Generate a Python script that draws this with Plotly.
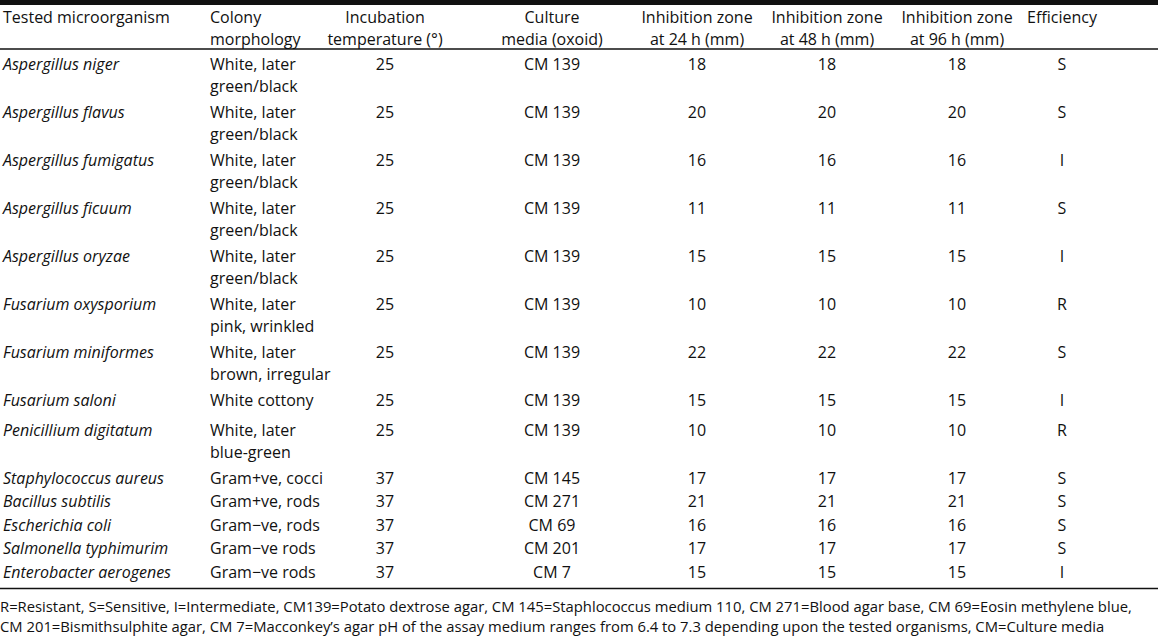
import plotly.graph_objects as go

# table data
headers = ["Tested microorganism", "Colony<br>morphology", "Incubation<br>temperature (°)",
           "Culture<br>media (oxoid)", "Inhibition zone<br>at 24 h (mm)",
           "Inhibition zone<br>at 48 h (mm)", "Inhibition zone<br>at 96 h (mm)", "Efficiency"]

organisms = ["Aspergillus niger", "Aspergillus flavus", "Aspergillus fumigatus", "Aspergillus ficuum",
             "Aspergillus oryzae", "Fusarium oxysporium", "Fusarium miniformes", "Fusarium saloni",
             "Penicillium digitatum", "Staphylococcus aureus", "Bacillus subtilis", "Escherichia coli",
             "Salmonella typhimurim", "Enterobacter aerogenes"]

morphology = ["White, later<br>green/black", "White, later<br>green/black", "White, later<br>green/black",
              "White, later<br>green/black", "White, later<br>green/black", "White, later<br>pink, wrinkled",
              "White, later<br>brown, irregular", "White cottony", "White, later<br>blue-green",
              "Gram+ve, cocci", "Gram+ve, rods", "Gram\u2212ve, rods", "Gram\u2212ve rods", "Gram\u2212ve rods"]

temperature = [25, 25, 25, 25, 25, 25, 25, 25, 25, 37, 37, 37, 37, 37]

media = ["CM 139", "CM 139", "CM 139", "CM 139", "CM 139", "CM 139", "CM 139", "CM 139", "CM 139",
         "CM 145", "CM 271", "CM 69", "CM 201", "CM 7"]

zone_24 = [18, 20, 16, 11, 15, 10, 22, 15, 10, 17, 21, 16, 17, 15]
zone_48 = [18, 20, 16, 11, 15, 10, 22, 15, 10, 17, 21, 16, 17, 15]
zone_96 = [18, 20, 16, 11, 15, 10, 22, 15, 10, 17, 21, 16, 17, 15]

efficiency = ["S", "S", "I", "S", "I", "R", "S", "I", "R", "S", "S", "S", "S", "I"]

footnote = ["R=Resistant, S=Sensitive, I=Intermediate, CM139=Potato dextrose agar, CM 145=Staphlococcus medium 110, "
            "CM 271=Blood agar base, CM 69=Eosin methylene blue,",
            "CM 201=Bismithsulphite agar, CM 7=Macconkey\u2019s agar pH of the assay medium ranges from 6.4 to 7.3 "
            "depending upon the tested organisms, CM=Culture media"]

# layout (pixels)
W, H = 1158, 641
FONT = "Open Sans"
SIZE = 16
COLOR = "#111111"
LINE_GAP = 22        # spacing between lines inside one cell
ROW_H = 23.5         # single line row
ROW_EXTRA = 24.5     # added per extra line
EXTRA_GAP = {"Fusarium saloni": 6}   # the source table leaves a bit more room here
col_left = [3, 210]                                  # left aligned columns
col_center = [385, 552, 697, 827, 957, 1062]         # centered columns
header_rule = 49

# first-line y of every row, from line counts
row_y = []
top = header_rule
for name, m in zip(organisms, morphology):
    n = m.count("<br>") + 1
    row_y.append(top + 17)
    top += ROW_H + (n - 1) * ROW_EXTRA + EXTRA_GAP.get(name, 0)
bottom_rule = row_y[-1] + 15

fig = go.Figure()


def add_text(xs, ys, texts, pos, style="normal", size=SIZE):
    fig.add_trace(go.Scatter(
        x=xs, y=ys, text=texts, mode="text", textposition=pos,
        textfont=dict(family=FONT, size=size, color=COLOR, style=style),
        hoverinfo="skip", showlegend=False, cliponaxis=False))


# header (two lines max)
lx, ly, lt = [], [], []
cx_, cy_, ct = [], [], []
for i, h in enumerate(headers):
    for k, part in enumerate(h.split("<br>")):
        if i < 2:
            lx.append(col_left[i]); ly.append(19 + k * LINE_GAP); lt.append(part)
        else:
            cx_.append(col_center[i - 2]); cy_.append(19 + k * LINE_GAP); ct.append(part)
add_text(lx, ly, lt, "middle right")
add_text(cx_, cy_, ct, "middle center")

# organism names, italic
add_text([col_left[0]] * len(organisms), row_y, organisms, "middle right", style="italic")

# colony morphology, split into lines
mx, my, mt = [], [], []
for y, m in zip(row_y, morphology):
    for k, part in enumerate(m.split("<br>")):
        mx.append(col_left[1])
        my.append(y + k * LINE_GAP)
        mt.append(part)
add_text(mx, my, mt, "middle right")

# centered columns
for cx, vals in zip(col_center, [temperature, media, zone_24, zone_48, zone_96, efficiency]):
    add_text([cx] * len(vals), row_y, [str(v) for v in vals], "middle center")

# footnote
add_text([0, 0], [bottom_rule + 20, bottom_rule + 40], footnote, "middle right", size=14.8)

# rules
fig.add_shape(type="line", x0=0, x1=W, y0=2.5, y1=2.5, line=dict(color="#111", width=5))
fig.add_shape(type="line", x0=0, x1=W, y0=header_rule, y1=header_rule, line=dict(color="#111", width=1.3))
fig.add_shape(type="line", x0=0, x1=W, y0=bottom_rule, y1=bottom_rule, line=dict(color="#111", width=1.3))

fig.update_layout(
    width=W, height=H,
    margin=dict(l=0, r=0, t=0, b=0),
    plot_bgcolor="white", paper_bgcolor="white",
    xaxis=dict(range=[0, W], visible=False, fixedrange=True),
    yaxis=dict(range=[H, 0], visible=False, fixedrange=True),
)

fig.write_html("out.html", config={"displayModeBar": False},
               post_script="document.body.style.margin='0';")
